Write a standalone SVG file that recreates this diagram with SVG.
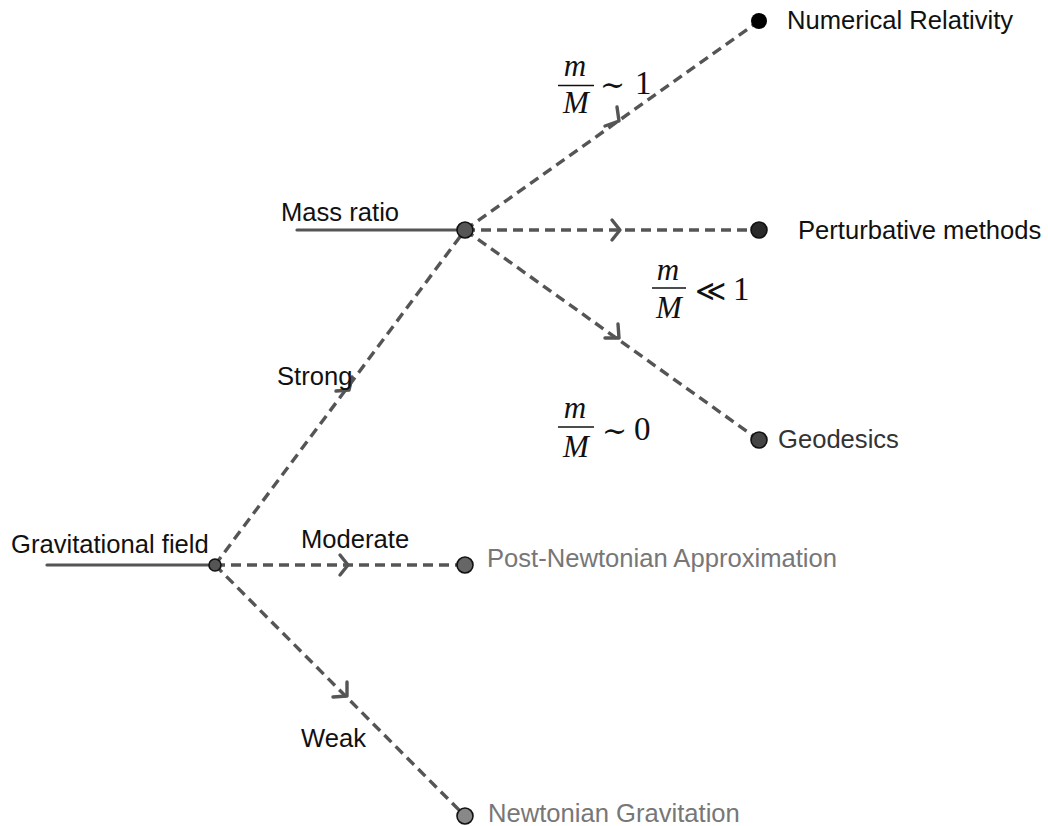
<svg xmlns="http://www.w3.org/2000/svg" width="1048" height="826" viewBox="0 0 1048 826">
<style>
.solid{stroke:#555;stroke-width:3.2;fill:none;stroke-linecap:round}
.dash{stroke:#555;stroke-width:3.4;fill:none;stroke-dasharray:10 6}
.chev{stroke:#555;stroke-width:3.4;fill:none;stroke-linecap:round;stroke-linejoin:round}
.lbl{font-family:"Liberation Sans",Arial,sans-serif;font-size:25.6px;fill:#111}
.gray{fill:#777}
.math{font-family:"Liberation Serif","DejaVu Serif",serif;font-size:33px;fill:#111}
.rel{font-family:"DejaVu Serif",serif;font-size:30px;fill:#111}
.mi{font-style:italic;font-size:31px}
.dot{stroke:#111;stroke-width:1.6}
</style>
<rect width="1048" height="826" fill="#fff"/>
<g id="connectors">
<line class="solid" x1="47" y1="565" x2="215" y2="565"/>
<line class="solid" x1="297" y1="230" x2="465" y2="230"/>
<line class="dash" x1="215" y1="565" x2="465" y2="230"/>
<line class="dash" x1="215" y1="565" x2="465" y2="565"/>
<line class="dash" x1="215" y1="565" x2="465" y2="816"/>
<line class="dash" x1="465" y1="230" x2="759" y2="21"/>
<line class="dash" x1="465" y1="230" x2="759" y2="230"/>
<line class="dash" x1="465" y1="230" x2="759" y2="440"/>
<path class="chev" d="M612,220 L620,230 L612,240"/>
<path class="chev" d="M340,555 L348,565 L340,575"/>
<path class="chev" d="M336,391 L349,390 L352,377"/>
<path class="chev" d="M333,697 L347,696 L347,682"/>
<path class="chev" d="M605,126 L619,121 L617,107"/>
<path class="chev" d="M605,338 L619,338 L618,324"/>
</g>
<g id="n-grav">
<circle class="dot" cx="215" cy="565" r="6" fill="#555"/>
<text class="lbl" x="11" y="553">Gravitational field</text>
</g>
<g id="n-mass">
<circle class="dot" cx="465" cy="230" r="8" fill="#555"/>
<text class="lbl" x="281" y="221">Mass ratio</text>
</g>
<g id="n-nr">
<circle cx="759" cy="21" r="8" fill="#000"/>
<text class="lbl" x="787" y="29">Numerical Relativity</text>
</g>
<g id="n-pert">
<circle class="dot" cx="759" cy="230" r="8" fill="#2a2a2a"/>
<text class="lbl" x="798" y="239">Perturbative methods</text>
</g>
<g id="n-geo">
<circle class="dot" cx="759" cy="440" r="8" fill="#444"/>
<text class="lbl" x="778" y="448" style="fill:#333">Geodesics</text>
</g>
<g id="n-pn">
<circle class="dot" cx="465" cy="565" r="8" fill="#666"/>
<text class="lbl gray" x="487" y="567">Post-Newtonian Approximation</text>
</g>
<g id="n-newt">
<circle class="dot" cx="465" cy="816" r="8" fill="#888"/>
<text class="lbl gray" x="488" y="822">Newtonian Gravitation</text>
</g>
<g id="edge-labels">
<text class="lbl" x="277" y="385">Strong</text>
<text class="lbl" x="301" y="548">Moderate</text>
<text class="lbl" x="301" y="747">Weak</text>
</g>
<g id="math1">
<text class="math mi" x="575" y="76" text-anchor="middle">m</text>
<line x1="558" y1="85.5" x2="594" y2="85.5" stroke="#111" stroke-width="1.3"/>
<text class="math mi" x="576" y="113" text-anchor="middle">M</text>
<text class="rel" x="600" y="95">∼</text>
<text class="math" x="635" y="94">1</text>
</g>
<g id="math2">
<text class="math mi" x="668" y="280" text-anchor="middle">m</text>
<line x1="652" y1="288" x2="686" y2="288" stroke="#111" stroke-width="1.3"/>
<text class="math mi" x="669" y="318" text-anchor="middle">M</text>
<text class="rel" x="695" y="301">≪</text>
<text class="math" x="733" y="300">1</text>
</g>
<g id="math3">
<text class="math mi" x="575" y="418" text-anchor="middle">m</text>
<line x1="558" y1="427" x2="594" y2="427" stroke="#111" stroke-width="1.3"/>
<text class="math mi" x="576" y="457" text-anchor="middle">M</text>
<text class="rel" x="602" y="441">∼</text>
<text class="math" x="634" y="440">0</text>
</g>
</svg>
